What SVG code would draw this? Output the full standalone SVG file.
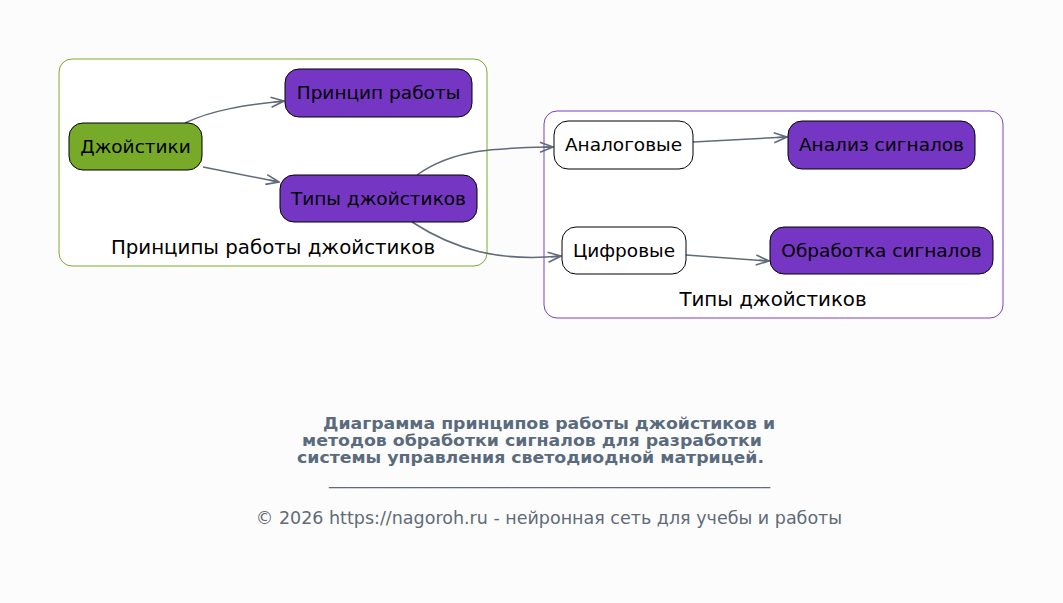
<svg xmlns="http://www.w3.org/2000/svg" width="1063" height="603" viewBox="0 0 1063 603">
<style>
.bg{fill:#fdfcfc}
.n text,.cl{font-family:"DejaVu Sans","Liberation Sans",sans-serif;font-size:18.5px;fill:#000;text-anchor:middle}
.cl{font-size:19.8px}
.n rect{stroke:#000;stroke-width:1}
.g{fill:#78aa2a}
.p{fill:#7636c4}
.w{fill:#ffffff}
.e path{fill:none;stroke:#5f6b78;stroke-width:1.5}
.t{font-family:"DejaVu Sans","Liberation Sans",sans-serif;font-size:15.5px;font-weight:bold;fill:#5a6b7d;text-anchor:middle}
.c{font-family:"DejaVu Sans","Liberation Sans",sans-serif;font-size:17.5px;fill:#5f6b78;text-anchor:middle}
</style>
<defs>
<marker id="a" viewBox="0 0 15 12" refX="14" refY="6" markerWidth="15" markerHeight="12" markerUnits="userSpaceOnUse" orient="auto">
<path d="M1,1 L14,6 L1,11 M14,6 L4,6" fill="none" stroke="#5f6b78" stroke-width="1.6"/>
</marker>
</defs>
<rect class="bg" x="0" y="0" width="1063" height="603"/>
<g id="cluster1">
<rect x="59" y="59" width="428" height="207" rx="13" fill="#ffffff" stroke="#7aab2a" stroke-width="1"/>
<text class="cl" x="273" y="254">Принципы работы джойстиков</text>
</g>
<g id="cluster2">
<rect x="544" y="111" width="459" height="207" rx="13" fill="#ffffff" stroke="#7b3fc6" stroke-width="1"/>
<text class="cl" x="773" y="306">Типы джойстиков</text>
</g>
<g id="edges" class="e">
<path d="M185,123 C212,110 245,105 284,101" marker-end="url(#a)"/>
<path d="M203,167 L279,182" marker-end="url(#a)"/>
<path d="M417,175 C455,148 500,148 553,147" marker-end="url(#a)"/>
<path d="M412,222 C455,250 500,262 561,256" marker-end="url(#a)"/>
<path d="M693,142 L787,137" marker-end="url(#a)"/>
<path d="M686,255 L769,261" marker-end="url(#a)"/>
</g>
<g id="n1" class="n"><rect class="g" x="69" y="123" width="133" height="47" rx="14"/><text x="135.5" y="153">Джойстики</text></g>
<g id="n2" class="n"><rect class="p" x="285" y="69" width="187" height="48" rx="14"/><text x="378.5" y="99">Принцип работы</text></g>
<g id="n3" class="n"><rect class="p" x="280" y="175" width="197" height="47" rx="14"/><text x="378.5" y="205">Типы джойстиков</text></g>
<g id="n4" class="n"><rect class="w" x="554" y="121" width="139" height="48" rx="14"/><text x="623.5" y="151">Аналоговые</text></g>
<g id="n5" class="n"><rect class="p" x="788" y="121" width="187" height="48" rx="14"/><text x="881.5" y="151">Анализ сигналов</text></g>
<g id="n6" class="n"><rect class="w" x="562" y="227" width="124" height="47" rx="14"/><text x="624" y="257">Цифровые</text></g>
<g id="n7" class="n"><rect class="p" x="770" y="227" width="223" height="47" rx="14"/><text x="881.5" y="257">Обработка сигналов</text></g>
<g id="title">
<text class="t" x="549" y="429" textLength="452" lengthAdjust="spacingAndGlyphs">Диаграмма принципов работы джойстиков и</text>
<text class="t" x="532" y="446" textLength="460" lengthAdjust="spacingAndGlyphs">методов обработки сигналов для разработки</text>
<text class="t" x="530.5" y="463" textLength="467" lengthAdjust="spacingAndGlyphs">системы управления светодиодной матрицей.</text>
<text class="c" x="549.5" y="484" textLength="441" lengthAdjust="spacingAndGlyphs">______________________________________________</text>
<text class="c" x="549" y="524">© 2026 https://nagoroh.ru - нейронная сеть для учебы и работы</text>
</g>
</svg>
